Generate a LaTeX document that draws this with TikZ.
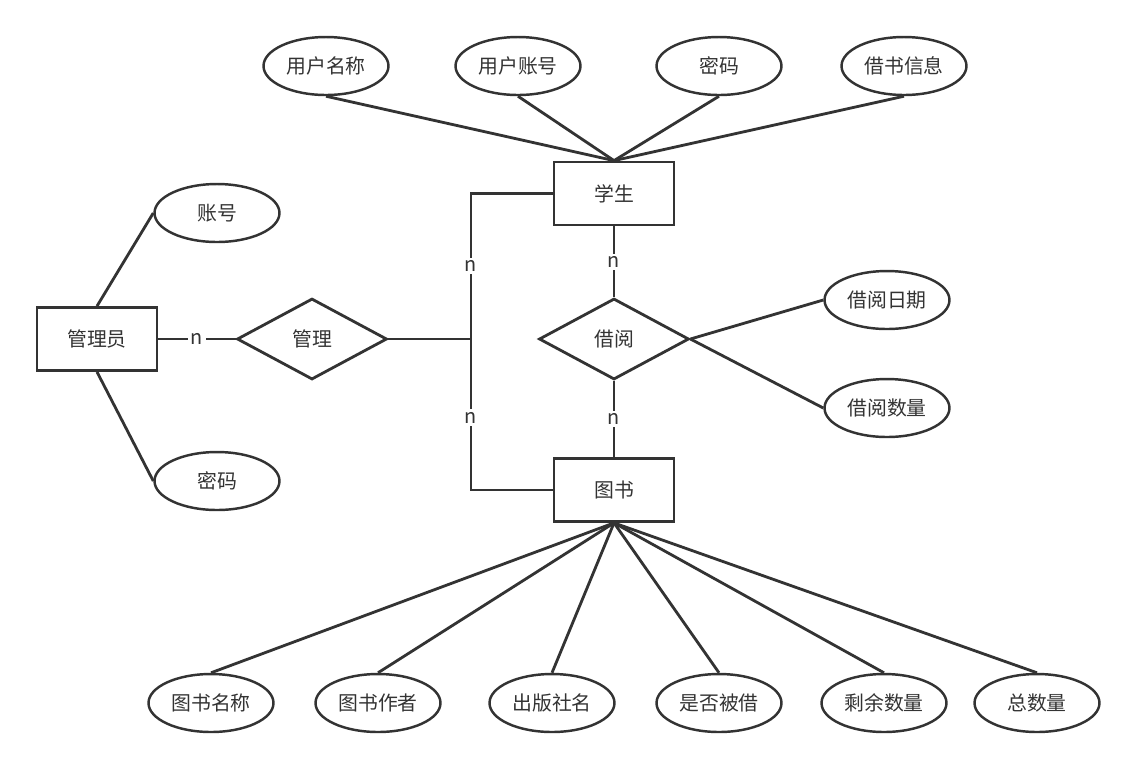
\documentclass[tikz,border=0pt]{standalone}
\usepackage{fontspec}
\setmainfont{Noto Sans CJK SC}
\usepackage{xcolor}
\usetikzlibrary{shapes.geometric}
\definecolor{ink}{HTML}{333333}

\begin{document}
\begin{tikzpicture}[
    x=0.02cm, y=-0.02cm,
    every node/.style={font=\fontsize{11.3}{13}\selectfont, text=ink},
    entity/.style={rectangle, draw=ink, line width=1.6pt, minimum width=2.4cm, minimum height=1.26cm},
    relation/.style={diamond, draw=ink, line width=1.6pt, minimum width=3cm, minimum height=1.62cm, inner sep=0pt},
    attr/.style={ellipse, draw=ink, line width=1.4pt, minimum width=2.5cm, minimum height=1.16cm, inner sep=1pt},
    link/.style={draw=ink, line width=1.6pt},
    card/.style={fill=white, inner sep=1.5pt}
]
    \useasboundingbox (0,0) rectangle (1136,769);

    % entities and relations
    \node[entity] (stu) at (614,193.5) {学生};
    \node[entity] (book) at (614,490) {图书};
    \node[entity] (admin) at (97,339) {管理员};
    \node[relation] (manage) at (312,339) {管理};
    \node[relation] (borrow) at (614,339) {借阅};
    \coordinate (jn) at (471,339);

    % attributes
    \node[attr] (uname) at (326,66) {用户名称};
    \node[attr] (uacct) at (518,66) {用户账号};
    \node[attr] (upwd) at (719,66) {密码};
    \node[attr] (uinfo) at (904,66) {借书信息};
    \node[attr] (aacct) at (217,213) {账号};
    \node[attr] (apwd) at (217,481) {密码};
    \node[attr] (bdate) at (887,300) {借阅日期};
    \node[attr] (bnum) at (887,408) {借阅数量};
    \node[attr] (bname) at (211,703) {图书名称};
    \node[attr] (bauth) at (378,703) {图书作者};
    \node[attr] (bpub) at (552,703) {出版社名};
    \node[attr] (blent) at (719,703) {是否被借};
    \node[attr] (bleft) at (884,703) {剩余数量};
    \node[attr] (btotal) at (1037,703) {总数量};

    % connectors
    \foreach \a in {uname,uacct,upwd,uinfo}
        \draw[link] (\a.south) -- (stu.north);
    \foreach \a in {bname,bauth,bpub,blent,bleft,btotal}
        \draw[link] (\a.north) -- (book.south);
    \draw[link] (admin.north) -- (aacct.west);
    \draw[link] (admin.south) -- (apwd.west);
    \draw[link] (borrow.east) -- (bdate.west);
    \draw[link] (borrow.east) -- (bnum.west);

    \draw[link] (admin.east) -- node[card] {n} (manage.west);
    \draw[link] (manage.east) -- (jn);
    \draw[link] (stu.west) -| node[card, pos=0.75] {n} (jn);
    \draw[link] (jn) |- node[card, pos=0.26] {n} (book.west);
    \draw[link] (stu.south) -- node[card] {n} (borrow.north);
    \draw[link] (borrow.south) -- node[card] {n} (book.north);
\end{tikzpicture}
\end{document}
